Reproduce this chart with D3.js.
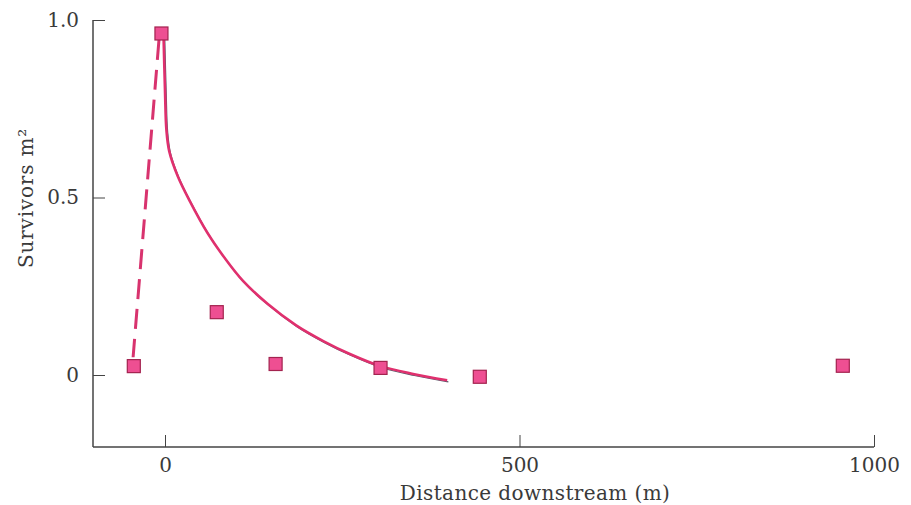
<!DOCTYPE html>
<html>
<head>
<meta charset="utf-8">
<script src="https://cdn.jsdelivr.net/npm/d3@7"></script>
<style>
  body { margin: 0; background: #fff; }
  text { font-family: "DejaVu Serif", serif; fill: #3a3a3a; }
</style>
</head>
<body>
<div id="chart"></div>
<script>
// Observed survivors per m2 at each sampling point
const pointX = [-44, -5, 73, 156, 304, 444, 956];
const pointY = [0.025, 0.962, 0.177, 0.031, 0.02, -0.005, 0.026];

// Fitted decay curve downstream (solid)
const curveX = [-2, 0, 2, 6, 18, 35, 60, 84, 110, 145, 185, 224, 260, 304, 350, 398];
const curveY = [0.95, 0.80, 0.69, 0.63, 0.56, 0.49, 0.40, 0.33, 0.265, 0.20, 0.14, 0.095, 0.06, 0.025, 0.003, -0.015];

// Upstream drop-off (dashed)
const dashX = [-8.5, -45];
const dashY = [0.944, 0.05];

const xTicks = [0, 500, 1000];
const yTicks = [0, 0.5, 1.0];

const width = 911, height = 505;

const svg = d3.select("#chart")
    .append("svg")
    .attr("width", width)
    .attr("height", height);

// Scales
const x = d3.scaleLinear().domain([0, 1000]).range([165, 874]);
const y = d3.scaleLinear().domain([0, 1]).range([375, 20]);

const xMin = x.invert(93);
const yMin = y.invert(447);

// Axes
svg.append("g")
    .attr("transform", `translate(0,${y(yMin)})`)
    .call(d3.axisTop(x).tickValues(xTicks).tickSize(12).tickFormat(d3.format("d")))
    .call(g => g.select(".domain").attr("d", `M${x(xMin)},0H${x(1000)}`).attr("stroke", "#444").attr("stroke-width", 1.5))
    .call(g => g.selectAll(".tick line").attr("stroke", "#444"))
    .call(g => g.selectAll(".tick text")
        .attr("y", 11)
        .attr("dy", "0.71em")
        .attr("font-size", 20)
        .attr("font-family", "DejaVu Serif"));

svg.append("g")
    .attr("transform", `translate(${x(xMin)},0)`)
    .call(d3.axisRight(y).tickValues(yTicks).tickSize(12).tickFormat(d => d === 0 ? "0" : d3.format(".1f")(d)))
    .call(g => g.select(".domain").attr("d", `M0,${y(1)}V${y(yMin)}`).attr("stroke", "#444").attr("stroke-width", 1.5))
    .call(g => g.selectAll(".tick line").attr("stroke", "#444"))
    .call(g => g.selectAll(".tick text")
        .attr("x", -14)
        .attr("text-anchor", "end")
        .attr("font-size", 20)
        .attr("font-family", "DejaVu Serif"));

// Axis labels
svg.append("text")
    .attr("x", 535)
    .attr("y", 500)
    .attr("text-anchor", "middle")
    .attr("font-size", 20)
    .attr("letter-spacing", 0.4)
    .text("Distance downstream (m)");

svg.append("text")
    .attr("transform", "rotate(-90)")
    .attr("x", -198)
    .attr("y", 33)
    .attr("text-anchor", "middle")
    .attr("font-size", 20)
    .attr("letter-spacing", 0.8)
    .text("Survivors m²");

// Dashed line
const dashData = dashX.map((d, i) => [d, dashY[i]]);
svg.append("path")
    .datum(dashData)
    .attr("fill", "none")
    .attr("stroke", "#d8336e")
    .attr("stroke-width", 3)
    .attr("stroke-dasharray", "20,10")
    .attr("d", d3.line().x(d => x(d[0])).y(d => y(d[1])));

// Solid fitted curve, with its dark edge
const curveData = curveX.map((d, i) => [d, curveY[i]]);
const curveLine = d3.line()
    .x(d => x(d[0]))
    .y(d => y(d[1]))
    .curve(d3.curveCatmullRom.alpha(0.5));

svg.append("path")
    .datum(curveData)
    .attr("fill", "none")
    .attr("stroke", "#5a5a6a")
    .attr("stroke-width", 1.2)
    .attr("transform", "translate(1.2,1.6)")
    .attr("d", curveLine);

svg.append("path")
    .datum(curveData)
    .attr("fill", "none")
    .attr("stroke", "#e0306e")
    .attr("stroke-width", 2.6)
    .attr("d", curveLine);

// Square markers
const pts = pointX.map((d, i) => ({ x: d, y: pointY[i] }));
const s = 13;
svg.selectAll(".pt")
    .data(pts)
    .enter()
    .append("rect")
    .attr("class", "pt")
    .attr("x", d => x(d.x) - s / 2)
    .attr("y", d => y(d.y) - s / 2)
    .attr("width", s)
    .attr("height", s)
    .attr("fill", "#ee4f92")
    .attr("stroke", "#a3234f")
    .attr("stroke-width", 1.2);
</script>
</body>
</html>
